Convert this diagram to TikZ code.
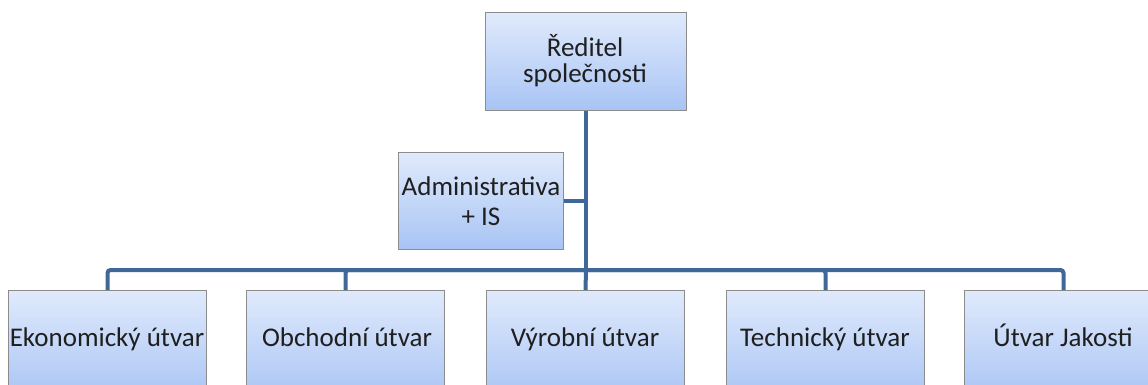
\documentclass[tikz,border=0pt]{standalone}
\usepackage{fontspec}
\setmainfont{Carlito}
\begin{document}
\begin{tikzpicture}[x=1pt,y=-1pt,
  lbl/.style={font=\fontsize{27}{26}\selectfont, text=black!88},
  box/.style={draw=black!45, line width=1pt, top color=boxtop, bottom color=boxbot,
    minimum width=#1, align=center, inner sep=0pt, lbl},
  box/.default=198,
  conn/.style={draw=linecol, line width=4pt, rounded corners=3pt}]
\definecolor{boxtop}{HTML}{E0EAFC}
\definecolor{boxbot}{HTML}{A8C4F4}
\definecolor{linecol}{HTML}{3F6799}
\path[use as bounding box] (0,0) rectangle (1148,385);
\clip (0,0) rectangle (1148,385);
% nodes
\node[box=201, minimum height=98, anchor=north west] (ceo) at (485,12) {};
\node[box=165, minimum height=97, anchor=north west] (adm) at (398,152) {};
\node[box, minimum height=110, anchor=north west] (eko) at (8,290) {};
\node[box, minimum height=110, anchor=north west] (obc) at (246,290) {};
\node[box, minimum height=110, anchor=north west] (vyr) at (486,290) {};
\node[box, minimum height=110, anchor=north west] (tec) at (726,290) {};
\node[box, minimum height=110, anchor=north west] (jak) at (964,290) {};
\node[lbl, anchor=base] (tCeo1) at (585,57) {Ředitel};
\node[lbl, anchor=base] (tCeo2) at (585,83) {společnosti};
\node[lbl, anchor=base] (tAdm1) at (481,195) {Administrativa};
\node[lbl, anchor=base] (tAdm2) at (481,225) {+ IS};
\node[lbl, anchor=base] (tEko) at (107,346) {Ekonomický útvar};
\node[lbl, anchor=base] (tObc) at (347,346) {Obchodní útvar};
\node[lbl, anchor=base] (tVyr) at (585,346) {Výrobní útvar};
\node[lbl, anchor=base] (tTec) at (825,346) {Technický útvar};
\node[lbl, anchor=base] (tJak) at (1063,346) {Útvar Jakosti};
% connectors
\coordinate (bus) at (ceo.south |- 0,270);
\draw[conn] (ceo.south) -- (bus);
\draw[conn] (adm.east) -- (adm.east -| ceo.south);
\draw[conn] (eko.north) |- (bus);
\draw[conn] (obc.north) |- (bus);
\draw[conn] (vyr.north) -- (bus);
\draw[conn] (tec.north) |- (bus);
\draw[conn] (jak.north) |- (bus);
\end{tikzpicture}
\end{document}
